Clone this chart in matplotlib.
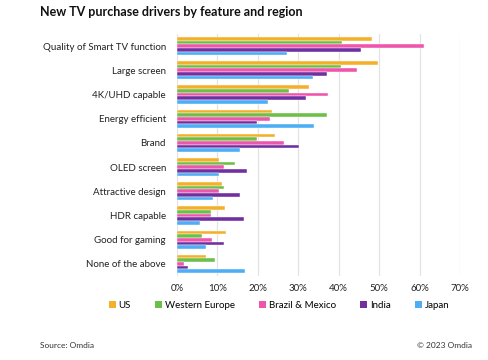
import matplotlib.pyplot as plt
import numpy as np
from matplotlib.patches import Patch
from matplotlib.ticker import PercentFormatter

plt.rcParams['font.family'] = ['Lato', 'DejaVu Sans']

features = ["Quality of Smart TV function", "Large screen", "4K/UHD capable",
            "Energy efficient", "Brand", "OLED screen", "Attractive design",
            "HDR capable", "Good for gaming", "None of the above"]
regions = ["US", "Western Europe", "Brazil & Mexico", "India", "Japan"]
colors = ["#F5B02A", "#6CC04A", "#EE55AC", "#7030A0", "#4DAEF5"]

us = [48.3, 49.7, 32.6, 23.4, 24.3, 10.5, 11.2, 11.9, 12.2, 7.1]
western_europe = [40.9, 40.6, 27.6, 37.1, 19.8, 14.3, 11.6, 8.5, 6.1, 9.5]
brazil_mexico = [61.2, 44.4, 37.4, 22.9, 26.5, 11.7, 10.4, 8.4, 8.6, 1.8]
india = [45.6, 37.1, 32.0, 19.8, 30.3, 17.4, 15.5, 16.6, 11.6, 2.7]
japan = [27.2, 33.6, 22.6, 33.8, 15.7, 10.4, 8.9, 5.7, 7.2, 16.9]
series = [us, western_europe, brazil_mexico, india, japan]

fig = plt.figure(figsize=(4.88, 3.6), dpi=100)
ax = fig.add_axes([177 / 488, 1 - 276 / 360, 283 / 488, 242 / 360])

bar_h = 0.152
y = np.arange(len(features))
for i, (vals, c) in enumerate(zip(series, colors)):
    offset = (i - 2) * bar_h
    ax.barh(y + offset, np.array(vals) / 100, height=bar_h, color=c,
            edgecolor="white", linewidth=0.3, zorder=3)

ax.set_xlim(0, 0.7)
ax.set_xticks(np.arange(0, 0.71, 0.1))
ax.xaxis.set_major_formatter(PercentFormatter(1.0, decimals=0))
ax.set_ylim(len(features) - 0.5, -0.5)
ax.set_yticks(y)
ax.set_yticklabels(features)
ax.tick_params(axis="both", length=0, labelsize=7, colors="#222222")
ax.tick_params(axis="y", pad=8)
ax.tick_params(axis="x", pad=6)
ax.grid(axis="x", color="#E3E3E3", linewidth=0.9, zorder=0)
for s in ax.spines.values():
    s.set_visible(False)

handles = [Patch(facecolor=c, label=r) for r, c in zip(regions, colors)]
fig.legend(handles=handles, loc="center", bbox_to_anchor=(0.572, 1 - 305 / 360),
           ncol=5, frameon=False, fontsize=7, handlelength=0.7, handleheight=0.7,
           handletextpad=0.3, columnspacing=2.5)

fig.text(40 / 488, 1 - 12 / 360, "New TV purchase drivers by feature and region",
         fontsize=9, fontweight="bold", va="center", ha="left", color="#111111")
fig.text(40 / 488, 1 - 345 / 360, "Source: Omdia", fontsize=6, va="center",
         ha="left", color="#333333")
fig.text(472 / 488, 1 - 345 / 360, "© 2023 Omdia", fontsize=6, va="center",
         ha="right", color="#333333")

fig.savefig("out.png", dpi=100)
